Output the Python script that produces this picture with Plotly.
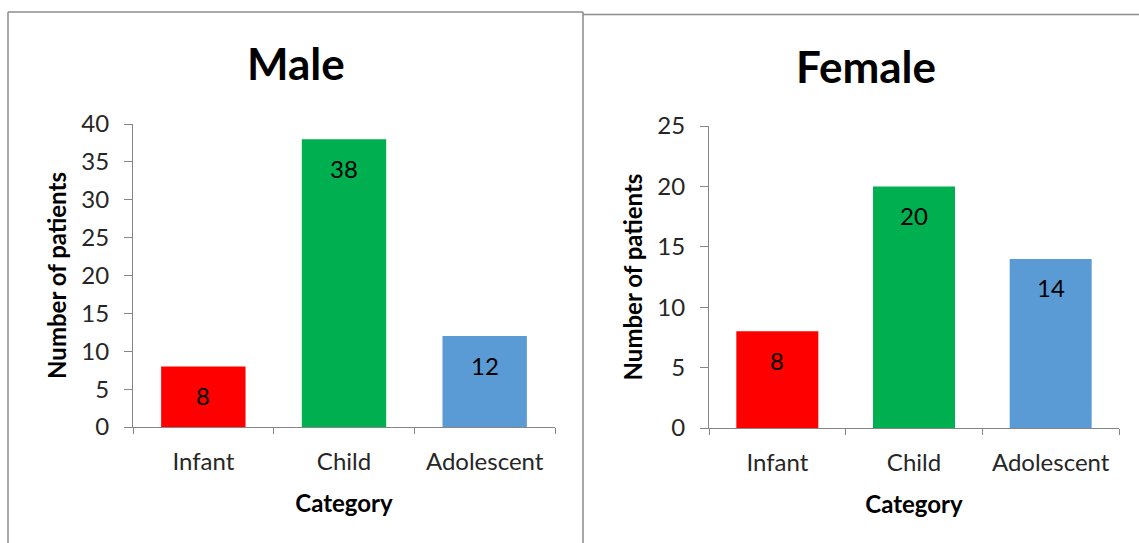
import plotly.graph_objects as go

W, H = 1139, 543

categories = ["Infant", "Child", "Adolescent"]
male_counts = [8, 38, 12]
female_counts = [8, 20, 14]
bar_colors = ["#FF0000", "#00B050", "#5B9BD5"]

male_ticks = [0, 5, 10, 15, 20, 25, 30, 35, 40]
female_ticks = [0, 5, 10, 15, 20, 25]

FONT = "Lato"
AXIS_GRAY = "#868686"
BORDER_GRAY = "#8C8C8C"
TICK_SIZE = 24
TITLE_SIZE = 24


def px_x(x):
    return x / W


def px_y(y):
    return (H - y) / H


fig = go.Figure()

for counts, xa, ya in [(male_counts, "x", "y"), (female_counts, "x2", "y2")]:
    fig.add_trace(go.Bar(
        x=categories, y=counts, marker=dict(color=bar_colors, line=dict(width=0)),
        width=0.6, xaxis=xa, yaxis=ya, showlegend=False, hoverinfo="skip",
    ))

xaxis_common = dict(
    type="category", range=[-0.5, 2.5], showline=True, linecolor=AXIS_GRAY, linewidth=1,
    ticks="outside", tickson="boundaries", ticklen=6, tickcolor=AXIS_GRAY,
    tickfont=dict(family=FONT, size=TICK_SIZE, color="#262626"), showgrid=False, zeroline=False,
    automargin=False, ticklabelstandoff=13,
    title=dict(text="<b>Category</b>", font=dict(family=FONT, size=TITLE_SIZE, color="black"),
               standoff=21),
)
yaxis_common = dict(
    showline=True, linecolor=AXIS_GRAY, linewidth=1, ticks="outside", ticklen=8,
    tickcolor=AXIS_GRAY, tickfont=dict(family=FONT, size=TICK_SIZE, color="#262626"),
    showgrid=False, zeroline=False, ticklabelstandoff=10, automargin=False,
    title=dict(text="<b>Number of patients</b>", font=dict(family=FONT, size=TITLE_SIZE, color="black"),
               standoff=7),
)

annotations = [
    dict(text="<b>Male</b>", x=px_x(296), y=px_y(63), xref="paper", yref="paper",
         showarrow=False, font=dict(family=FONT, size=44, color="black"),
         xanchor="center", yanchor="middle"),
    dict(text="<b>Female</b>", x=px_x(866), y=px_y(66), xref="paper", yref="paper",
         showarrow=False, font=dict(family=FONT, size=44, color="black"),
         xanchor="center", yanchor="middle"),
]

# value labels sit inside each bar, just below its top
for counts, xa, ya in [(male_counts, "x", "y"), (female_counts, "x2", "y2")]:
    for cat, v in zip(categories, counts):
        annotations.append(dict(
            text=str(v), x=cat, y=v, xref=xa, yref=ya, showarrow=False,
            xanchor="center", yanchor="middle", yshift=-29,
            font=dict(family=FONT, size=TICK_SIZE, color="black"),
        ))

line_style = dict(color=BORDER_GRAY, width=1.5)
fig.update_layout(
    width=W, height=H, margin=dict(l=0, r=0, t=0, b=0, autoexpand=False),
    paper_bgcolor="white", plot_bgcolor="white",
    xaxis=dict(xaxis_common, domain=[px_x(133), px_x(555)], anchor="y"),
    yaxis=dict(yaxis_common, domain=[px_y(427), px_y(124)], range=[0, 40],
               tickvals=male_ticks, anchor="x"),
    xaxis2=dict(xaxis_common, domain=[px_x(709), px_x(1119)], anchor="y2"),
    yaxis2=dict(yaxis_common, domain=[px_y(428), px_y(126)], range=[0, 25],
                tickvals=female_ticks, anchor="x2"),
    annotations=annotations,
    shapes=[
        # outline of the left panel
        dict(type="line", xref="paper", yref="paper", x0=px_x(8), y0=0, x1=px_x(8), y1=px_y(12),
             line=line_style),
        dict(type="line", xref="paper", yref="paper", x0=px_x(8), y0=px_y(12), x1=px_x(583), y1=px_y(12),
             line=line_style),
        dict(type="line", xref="paper", yref="paper", x0=px_x(583), y0=0, x1=px_x(583), y1=px_y(12),
             line=line_style),
        # top edge of the right panel
        dict(type="line", xref="paper", yref="paper", x0=px_x(583), y0=px_y(14.5), x1=1, y1=px_y(14.5),
             line=line_style),
    ],
)

fig.write_html("out.html")
